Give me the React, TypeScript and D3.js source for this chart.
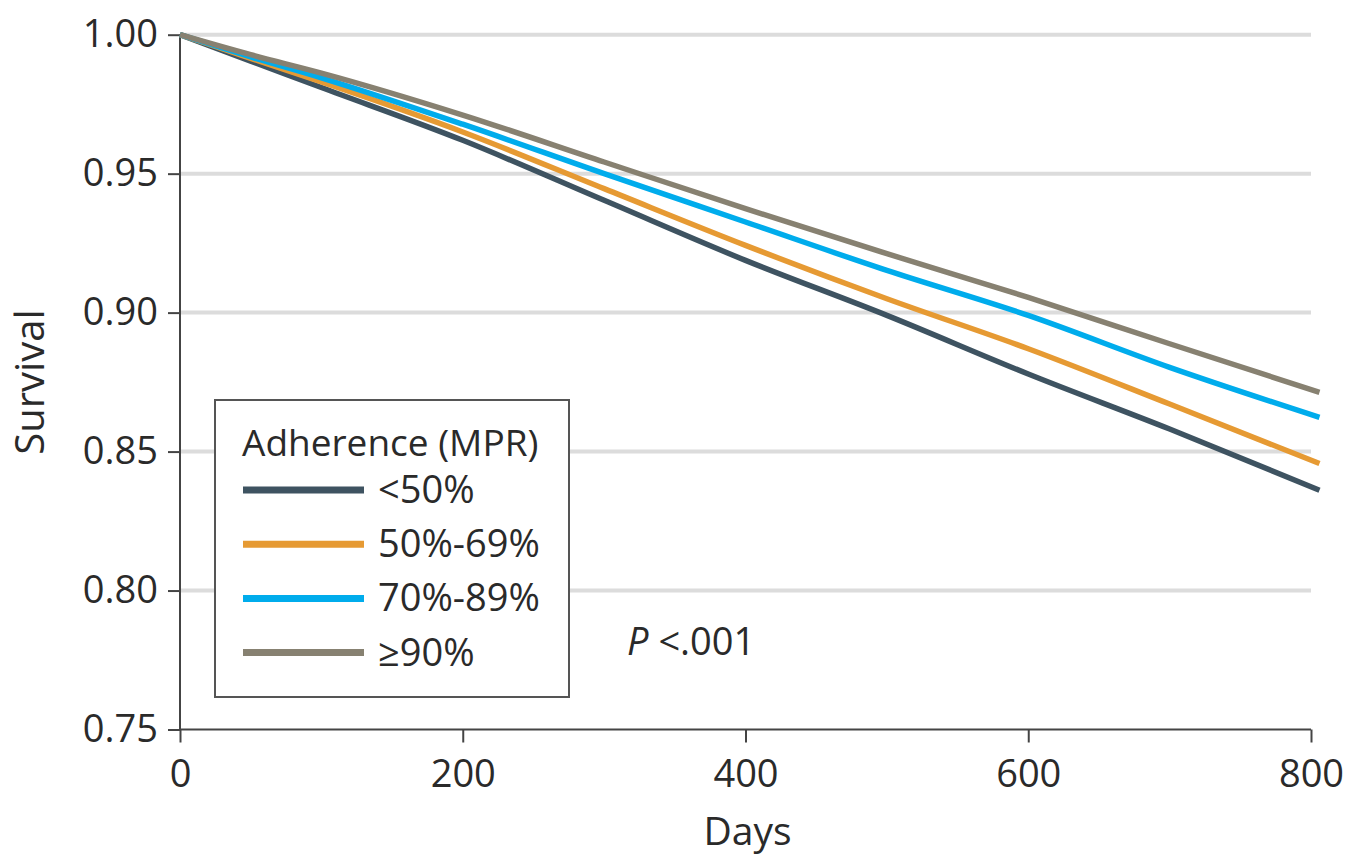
import React, { useEffect, useRef } from 'react';
import * as d3 from 'd3';

const days = [0, 50, 100, 200, 300, 400, 500, 600, 700, 806];

// survival estimates per adherence group
const survLt50 = [1, 0.9905, 0.981, 0.962, 0.9404, 0.9188, 0.899, 0.8779, 0.8581, 0.8361];
const surv50to69 = [1, 0.9915, 0.983, 0.965, 0.9446, 0.9242, 0.905, 0.887, 0.8671, 0.8457];
const surv70to89 = [1, 0.992, 0.9845, 0.9678, 0.95, 0.9326, 0.9152, 0.899, 0.8803, 0.8623];
const surv90 = [1, 0.9928, 0.9862, 0.9711, 0.9542, 0.9374, 0.9212, 0.9055, 0.8888, 0.8713];

const groupLabels = ['<50%', '50%-69%', '70%-89%', '≥90%'];
const groupColors = ['#3e5361', '#e69a33', '#00acec', '#878171'];

const xTicks = [0, 200, 400, 600, 800];
const yTicks = [0.75, 0.8, 0.85, 0.9, 0.95, 1.0];

const W = 1353;
const H = 859;
const FONT = '"Open Sans", "Noto Sans", sans-serif';

const App = () => {
  const ref = useRef(null);

  useEffect(() => {
    const g = d3.select(ref.current);
    g.selectAll('*').remove();

    const x = d3.scaleLinear().domain([0, 800]).range([180, 1311]);
    const y = d3.scaleLinear().domain([0.75, 1]).range([729.5, 34.7]);

    // gridlines
    g.append('g')
      .selectAll('line')
      .data(yTicks.filter(t => t > 0.75))
      .enter()
      .append('line')
      .attr('x1', x(0))
      .attr('x2', x(800))
      .attr('y1', d => y(d))
      .attr('y2', d => y(d))
      .attr('stroke', '#dcdcdc')
      .attr('stroke-width', 4);

    // axes
    const yAxis = d3
      .axisLeft(y)
      .tickValues(yTicks)
      .tickSize(12)
      .tickPadding(10)
      .tickFormat(d3.format('.2f'));
    const xAxis = d3
      .axisBottom(x)
      .tickValues(xTicks)
      .tickSize(13)
      .tickPadding(10)
      .tickFormat(d3.format('d'));

    const yg = g.append('g').attr('transform', `translate(${x(0)},0)`).call(yAxis);
    const xg = g.append('g').attr('transform', `translate(0,${y(0.75)})`).call(xAxis);

    [yg, xg].forEach(a => {
      a.select('.domain').attr('stroke', '#444').attr('stroke-width', 2);
      a.selectAll('.tick line').attr('stroke', '#444').attr('stroke-width', 2);
      a.selectAll('.tick text')
        .attr('font-family', FONT)
        .attr('font-size', 38)
        .attr('fill', '#2a2a2a');
    });
    // plain axis lines, no outer stubs
    yg.select('.domain').attr('d', `M0,${y(1)}V${y(0.75)}`);
    xg.select('.domain').attr('d', `M${x(0)},0H${x(800)}`);
    xg.selectAll('.tick text').attr('dy', '0.9em');

    // survival curves
    const series = [survLt50, surv50to69, surv70to89, surv90];
    const line = d3
      .line()
      .x(d => x(d[0]))
      .y(d => y(d[1]))
      .curve(d3.curveMonotoneX);

    g.append('g')
      .selectAll('path')
      .data(series)
      .enter()
      .append('path')
      .attr('d', s => line(days.map((d, i) => [d, s[i]])))
      .attr('fill', 'none')
      .attr('stroke', (s, i) => groupColors[i])
      .attr('stroke-width', 5.5)
      .attr('stroke-linejoin', 'round');

    // axis titles
    g.append('text')
      .attr('x', (x(0) + x(800)) / 2 + 2)
      .attr('y', 845)
      .attr('text-anchor', 'middle')
      .attr('font-family', FONT)
      .attr('font-size', 39)
      .attr('fill', '#2a2a2a')
      .text('Days');

    g.append('text')
      .attr('transform', `translate(44, ${(y(0.75) + y(1)) / 2}) rotate(-90)`)
      .attr('text-anchor', 'middle')
      .attr('font-family', FONT)
      .attr('font-size', 40)
      .attr('fill', '#2a2a2a')
      .text('Survival');

    // legend
    const legend = g.append('g');
    legend
      .append('rect')
      .attr('x', 215)
      .attr('y', 400)
      .attr('width', 354)
      .attr('height', 297)
      .attr('fill', '#fff')
      .attr('stroke', '#555')
      .attr('stroke-width', 2);
    legend
      .append('text')
      .attr('x', 242)
      .attr('y', 456)
      .attr('font-family', FONT)
      .attr('font-size', 37)
      .attr('fill', '#2a2a2a')
      .text('Adherence (MPR)');

    const items = legend
      .selectAll('g.item')
      .data(groupLabels)
      .enter()
      .append('g')
      .attr('class', 'item')
      .attr('transform', (d, i) => `translate(0, ${490 + i * 54.2})`);
    items
      .append('line')
      .attr('x1', 243)
      .attr('x2', 364)
      .attr('stroke', (d, i) => groupColors[i])
      .attr('stroke-width', 7);
    items
      .append('text')
      .attr('x', 378)
      .attr('y', 13)
      .attr('font-family', FONT)
      .attr('font-size', 38)
      .attr('fill', '#2a2a2a')
      .text(d => d);

    // p value
    const p = g
      .append('text')
      .attr('x', 627)
      .attr('y', 655)
      .attr('font-family', FONT)
      .attr('font-size', 38)
      .attr('fill', '#2a2a2a');
    p.append('tspan').attr('font-style', 'italic').text('P');
    p.append('tspan').text(' <.001');
  }, []);

  return (
    <svg
      width={W}
      height={H}
      style={{ position: 'absolute', left: 0, top: 0, background: '#fff' }}
    >
      <g ref={ref} />
    </svg>
  );
};

export default App;
